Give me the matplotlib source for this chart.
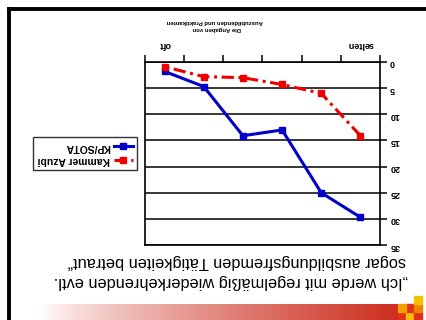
import numpy as np
import matplotlib
matplotlib.use("Agg")
import matplotlib.pyplot as plt
from matplotlib.lines import Line2D
from matplotlib.patches import Rectangle

plt.rcParams['font.family'] = ['Liberation Sans', 'DejaVu Sans']

# Survey frequency categories (from "selten" to "oft")
categories = ["selten", "", "", "", "", "oft"]
kp_sota = [29.7, 25.0, 13.0, 14.1, 4.7, 1.8]
kammer_azubi = [14.1, 6.0, 4.3, 3.0, 2.8, 0.9]
series_names = ["KP/SOTA", "Kammer Azubi"]
y_ticks = [0, 5, 10, 15, 20, 25, 30, 35]
title_lines = ["\u201eIch werde mit regelmäßig wiederkehrenden evtl.",
               "sogar ausbildungsfremden Tätigkeiten betraut\u201c"]
axis_title = ["Die Angaben von", "Auszubildenden und Praktikanten"]

W, H = 427, 320
fig = plt.figure(figsize=(W / 100, H / 100), dpi=100)
fig.patch.set_facecolor("white")

# The whole slide is shown turned upside down (rotated by 180 degrees).
ax = fig.add_axes([145 / W, 1 - 245 / H, 235 / W, 183 / H])
x = np.arange(len(categories))
l1, = ax.plot(x, kp_sota, color="#0000c8", lw=2.2, marker="s", ms=4.5,
              label=series_names[0])
l2, = ax.plot(x, kammer_azubi, color="#ee0000", lw=2.2, ls=(0, (4, 1.5, 1, 1.5)),
              marker="s", ms=4.5, label=series_names[1])
ax.set_xlim(len(categories) - 0.5, -0.5)
ax.set_ylim(35, 0)

# horizontal grid lines
ax.set_yticks(y_ticks)
ax.yaxis.grid(True, color="black", lw=1.1)
ax.set_axisbelow(True)
ax.yaxis.tick_right()
ax.tick_params(axis="y", direction="out", length=5, width=1.1, color="black", pad=2)
for t in ax.get_yticklabels():
    t.set_rotation(180)
    t.set_fontsize(6.5)
    t.set_fontweight("bold")

# category boundaries as ticks on the (now top) axis
ax.xaxis.tick_top()
ax.set_xticks(np.arange(-0.5, len(categories), 1.0), minor=False)
ax.set_xticklabels([])
ax.tick_params(axis="x", direction="out", length=5, width=1.1, color="black")
for xi, lab in zip(x, categories):
    if lab:
        ax.text(xi, -3.3, lab, rotation=180, ha="center", va="center",
                fontsize=6.5, fontweight="bold")
for s in ax.spines.values():
    s.set_color("black")
    s.set_linewidth(1.2)

fig.text(215 / W, 1 - 21.5 / H, axis_title[1], rotation=180, ha="center",
         va="center", fontsize=4.3, fontweight="bold")
fig.text(217 / W, 1 - 29 / H, axis_title[0], rotation=180, ha="center",
         va="center", fontsize=4.3, fontweight="bold")

# legend (left side, text first)
leg = fig.legend(handles=[l1, l2], loc="center", markerfirst=False,
                 bbox_to_anchor=(85 / W, 1 - 153.5 / H), fontsize=7.5,
                 frameon=True, fancybox=False, handlelength=1.8,
                 borderpad=0.45, labelspacing=0.35, handletextpad=0.4)
leg.get_frame().set_edgecolor("black")
leg.get_frame().set_linewidth(1.0)
for t in leg.get_texts():
    t.set_rotation(180)
    t.set_fontweight("bold")

# slide heading
fig.text(408 / W, 1 - 282 / H, title_lines[0], rotation=180, ha="right",
         va="center", fontsize=11.8)
fig.text(406 / W, 1 - 262 / H, title_lines[1], rotation=180, ha="right",
         va="center", fontsize=11.8)

# slide frame
fig.add_artist(Line2D([9 / W, 1.0], [1 - 9 / H, 1 - 9 / H], color="black", lw=2.8,
                      transform=fig.transFigure))
fig.add_artist(Line2D([9 / W, 9 / W], [0, 1 - 9 / H], color="black", lw=2.8,
                      transform=fig.transFigure))

# red gradient band
gax = fig.add_axes([40 / W, 0, 360 / W, 16 / H])
grad = np.linspace(0, 1, 256)
c0 = np.array([1.0, 1.0, 1.0])
c1 = np.array([0.80, 0.18, 0.12])
img = c0[None, :] + (c1 - c0)[None, :] * grad[:, None] ** 0.8
gax.imshow(img[None, :, :], aspect="auto", extent=[0, 1, 0, 1])
gax.set_axis_off()

# small checkered logo in the corner
logo_cells = [(0, 0, "#e03020"), (1, 0, "#f5c000"), (2, 0, "#e03020"),
              (1, 1, "#e03020"), (2, 1, "#f08000"), (2, 2, "#f5c000"),
              (0, 1, "#f5a000")]
cs = 8
for cx, cy, col in logo_cells:
    fig.add_artist(Rectangle(((398 + cx * cs) / W, (cy * cs) / H), cs / W, cs / H,
                             color=col, transform=fig.transFigure))

fig.savefig("out.png", dpi=100)
